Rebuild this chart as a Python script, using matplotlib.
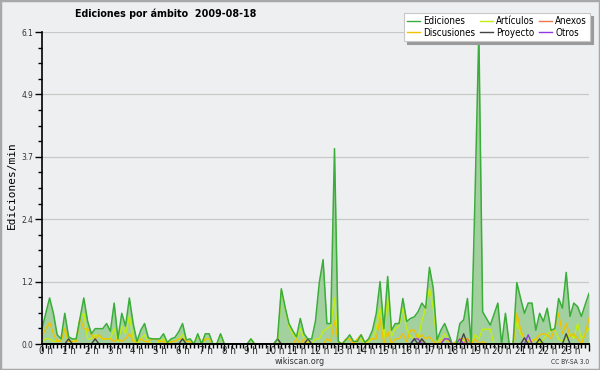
import numpy as np
import matplotlib
matplotlib.use("Agg")
import matplotlib.pyplot as plt
from matplotlib import font_manager
from matplotlib.lines import Line2D
from matplotlib.patches import Rectangle
from matplotlib.ticker import MultipleLocator, FixedLocator
import matplotlib.transforms as mtransforms

# ─── Data: edits per minute, one sample every 10 minutes (00:00 .. 24:00) ─────
TITLE = "Ediciones por ámbito  2009-08-18"
Y_LABEL = "Ediciones/min"
HOUR_LABELS = [f"{h} h" for h in range(24)]
Y_TICKS = [0.0, 1.22, 2.44, 3.66, 4.88, 6.1]
Y_TICK_LABELS = ["0.0", "1.2", "2.4", "3.7", "4.9", "6.1"]
SAMPLES_PER_HOUR = 6

ediciones = [
    0.30, 0.60, 0.90, 0.60, 0.18, 0.10, 0.60, 0.14, 0.10, 0.10, 0.50, 0.90,
    0.45, 0.20, 0.30, 0.30, 0.30, 0.40, 0.25, 0.80, 0.10, 0.60, 0.35, 0.90,
    0.40, 0.05, 0.27, 0.40, 0.12, 0.10, 0.10, 0.10, 0.20, 0.03, 0.10, 0.13,
    0.24, 0.40, 0.08, 0.10, 0.00, 0.20, 0.00, 0.20, 0.20, 0.00, 0.00, 0.20,
    0.00, 0.00, 0.00, 0.00, 0.00, 0.00, 0.00, 0.10, 0.00, 0.00, 0.00, 0.00,
    0.00, 0.00, 0.10, 1.08, 0.72, 0.40, 0.26, 0.14, 0.50, 0.20, 0.10, 0.10,
    0.45, 1.20, 1.65, 0.40, 0.40, 3.82, 0.05, 0.00, 0.08, 0.18, 0.05, 0.05,
    0.18, 0.03, 0.10, 0.27, 0.60, 1.22, 0.30, 1.32, 0.27, 0.40, 0.40, 0.89,
    0.44, 0.50, 0.53, 0.63, 0.80, 0.70, 1.50, 1.09, 0.08, 0.27, 0.40, 0.21,
    0.00, 0.00, 0.40, 0.47, 0.89, 0.00, 2.90, 6.10, 0.63, 0.50, 0.37, 0.58,
    0.80, 0.00, 0.60, 0.00, 0.00, 1.20, 0.89, 0.60, 0.80, 0.80, 0.27, 0.60,
    0.44, 0.70, 0.27, 0.30, 0.89, 0.70, 1.40, 0.54, 0.80, 0.73, 0.54, 0.77,
    0.99,
]
articulos = [
    0.05, 0.10, 0.10, 0.05, 0.05, 0.10, 0.25, 0.05, 0.05, 0.10, 0.50, 0.60,
    0.10, 0.10, 0.18, 0.15, 0.10, 0.10, 0.10, 0.30, 0.05, 0.35, 0.20, 0.55,
    0.10, 0.00, 0.10, 0.18, 0.05, 0.00, 0.00, 0.05, 0.10, 0.00, 0.05, 0.05,
    0.10, 0.18, 0.05, 0.05, 0.00, 0.18, 0.00, 0.10, 0.10, 0.00, 0.00, 0.18,
    0.00, 0.00, 0.00, 0.00, 0.00, 0.00, 0.00, 0.10, 0.00, 0.00, 0.00, 0.00,
    0.00, 0.00, 0.00, 1.05, 0.70, 0.35, 0.20, 0.10, 0.30, 0.10, 0.05, 0.00,
    0.10, 0.10, 0.25, 0.30, 0.35, 0.90, 0.00, 0.00, 0.10, 0.10, 0.00, 0.05,
    0.10, 0.00, 0.05, 0.10, 0.30, 0.70, 0.10, 1.00, 0.15, 0.30, 0.35, 0.70,
    0.30, 0.15, 0.10, 0.10, 0.45, 0.70, 1.09, 0.70, 0.05, 0.10, 0.20, 0.10,
    0.00, 0.00, 0.10, 0.05, 0.10, 0.00, 0.18, 0.10, 0.29, 0.29, 0.29, 0.00,
    0.00, 0.00, 0.00, 0.00, 0.00, 0.44, 0.20, 0.10, 0.05, 0.08, 0.10, 0.00,
    0.10, 0.18, 0.27, 0.27, 0.10, 0.05, 0.10, 0.20, 0.10, 0.40, 0.10, 0.20,
    0.30,
]
discusiones = [
    0.15, 0.30, 0.42, 0.20, 0.05, 0.05, 0.30, 0.05, 0.05, 0.05, 0.50, 0.30,
    0.30, 0.18, 0.10, 0.18, 0.10, 0.10, 0.10, 0.05, 0.10, 0.05, 0.10, 0.20,
    0.05, 0.05, 0.10, 0.05, 0.05, 0.10, 0.10, 0.05, 0.05, 0.00, 0.05, 0.05,
    0.10, 0.10, 0.05, 0.05, 0.00, 0.00, 0.00, 0.10, 0.10, 0.00, 0.00, 0.00,
    0.00, 0.00, 0.00, 0.00, 0.00, 0.00, 0.00, 0.00, 0.00, 0.00, 0.00, 0.00,
    0.00, 0.00, 0.00, 0.00, 0.00, 0.00, 0.00, 0.10, 0.00, 0.10, 0.00, 0.00,
    0.00, 0.00, 0.00, 0.10, 0.05, 0.45, 0.05, 0.00, 0.10, 0.10, 0.00, 0.10,
    0.18, 0.00, 0.10, 0.10, 0.10, 0.50, 0.00, 0.25, 0.00, 0.10, 0.10, 0.20,
    0.05, 0.27, 0.27, 0.10, 0.18, 0.10, 0.14, 0.05, 0.00, 0.05, 0.10, 0.05,
    0.00, 0.05, 0.10, 0.10, 0.10, 0.00, 0.10, 0.00, 0.05, 0.00, 0.00, 0.00,
    0.00, 0.00, 0.00, 0.00, 0.00, 0.60, 0.27, 0.10, 0.05, 0.05, 0.10, 0.18,
    0.20, 0.18, 0.10, 0.30, 0.60, 0.20, 0.40, 0.15, 0.20, 0.10, 0.00, 0.20,
    0.50,
]
proyecto = [
    0.00, 0.00, 0.00, 0.00, 0.00, 0.00, 0.00, 0.10, 0.00, 0.00, 0.00, 0.00,
    0.00, 0.00, 0.10, 0.00, 0.00, 0.00, 0.00, 0.00, 0.00, 0.00, 0.00, 0.00,
    0.00, 0.00, 0.00, 0.00, 0.00, 0.00, 0.00, 0.00, 0.00, 0.00, 0.00, 0.00,
    0.00, 0.10, 0.00, 0.00, 0.00, 0.00, 0.00, 0.00, 0.00, 0.00, 0.00, 0.00,
    0.00, 0.00, 0.00, 0.00, 0.00, 0.00, 0.00, 0.00, 0.00, 0.00, 0.00, 0.00,
    0.00, 0.00, 0.10, 0.00, 0.00, 0.00, 0.00, 0.00, 0.00, 0.00, 0.10, 0.00,
    0.00, 0.00, 0.00, 0.00, 0.00, 0.00, 0.00, 0.00, 0.00, 0.00, 0.00, 0.00,
    0.00, 0.00, 0.00, 0.00, 0.00, 0.00, 0.00, 0.00, 0.00, 0.00, 0.00, 0.00,
    0.00, 0.00, 0.10, 0.00, 0.10, 0.00, 0.00, 0.00, 0.00, 0.00, 0.00, 0.00,
    0.00, 0.00, 0.00, 0.20, 0.00, 0.00, 0.00, 0.00, 0.00, 0.00, 0.00, 0.00,
    0.00, 0.00, 0.00, 0.00, 0.00, 0.00, 0.00, 0.12, 0.00, 0.00, 0.00, 0.10,
    0.00, 0.00, 0.00, 0.00, 0.00, 0.00, 0.20, 0.00, 0.00, 0.00, 0.00, 0.00,
    0.00,
]
otros = [
    0.00, 0.00, 0.00, 0.00, 0.00, 0.00, 0.00, 0.00, 0.00, 0.00, 0.00, 0.00,
    0.00, 0.00, 0.00, 0.00, 0.00, 0.00, 0.00, 0.00, 0.00, 0.00, 0.00, 0.00,
    0.00, 0.00, 0.00, 0.00, 0.00, 0.00, 0.00, 0.00, 0.00, 0.00, 0.00, 0.00,
    0.00, 0.00, 0.00, 0.00, 0.00, 0.00, 0.00, 0.00, 0.00, 0.00, 0.00, 0.00,
    0.00, 0.00, 0.00, 0.00, 0.00, 0.00, 0.00, 0.00, 0.00, 0.00, 0.00, 0.00,
    0.00, 0.00, 0.00, 0.00, 0.00, 0.00, 0.00, 0.00, 0.00, 0.00, 0.00, 0.00,
    0.00, 0.00, 0.00, 0.00, 0.00, 0.00, 0.00, 0.00, 0.00, 0.00, 0.00, 0.00,
    0.00, 0.00, 0.00, 0.00, 0.00, 0.00, 0.00, 0.00, 0.00, 0.00, 0.00, 0.00,
    0.00, 0.00, 0.10, 0.10, 0.00, 0.00, 0.00, 0.00, 0.00, 0.00, 0.10, 0.10,
    0.00, 0.00, 0.10, 0.00, 0.00, 0.00, 0.00, 0.00, 0.00, 0.00, 0.00, 0.00,
    0.00, 0.00, 0.00, 0.00, 0.00, 0.00, 0.00, 0.00, 0.18, 0.00, 0.00, 0.00,
    0.00, 0.00, 0.00, 0.00, 0.00, 0.00, 0.00, 0.00, 0.00, 0.00, 0.00, 0.00,
    0.00,
]
anexos = [
    0.00, 0.00, 0.00, 0.00, 0.00, 0.00, 0.00, 0.00, 0.00, 0.00, 0.00, 0.00,
    0.00, 0.00, 0.00, 0.00, 0.00, 0.00, 0.00, 0.00, 0.00, 0.00, 0.00, 0.00,
    0.00, 0.00, 0.00, 0.00, 0.00, 0.00, 0.00, 0.00, 0.00, 0.00, 0.00, 0.00,
    0.00, 0.00, 0.00, 0.00, 0.00, 0.00, 0.00, 0.00, 0.00, 0.00, 0.00, 0.00,
    0.00, 0.00, 0.00, 0.00, 0.00, 0.00, 0.00, 0.00, 0.00, 0.00, 0.00, 0.00,
    0.00, 0.00, 0.00, 0.00, 0.00, 0.00, 0.00, 0.00, 0.00, 0.00, 0.00, 0.00,
    0.00, 0.00, 0.00, 0.00, 0.00, 0.00, 0.00, 0.00, 0.00, 0.00, 0.00, 0.00,
    0.00, 0.00, 0.00, 0.00, 0.00, 0.00, 0.00, 0.00, 0.00, 0.00, 0.00, 0.00,
    0.00, 0.00, 0.00, 0.00, 0.08, 0.00, 0.00, 0.00, 0.00, 0.00, 0.00, 0.00,
    0.00, 0.00, 0.00, 0.00, 0.10, 0.00, 0.00, 0.00, 0.00, 0.00, 0.00, 0.00,
    0.00, 0.00, 0.00, 0.00, 0.00, 0.00, 0.00, 0.00, 0.00, 0.00, 0.00, 0.00,
    0.00, 0.00, 0.00, 0.00, 0.00, 0.00, 0.00, 0.00, 0.00, 0.00, 0.00, 0.00,
    0.00,
]

# ─── Style ───────────────────────────────────────────────────────────────────
BG = "#eeeff0"
C_EDIC, C_FILL = "#3aad3a", "#a2d09e"
C_ART, C_DISC = "#c4ee10", "#f2c200"
C_PROY, C_OTROS, C_ANEX = "#444444", "#9038e8", "#f07848"

# narrow DejaVu if the system has it, else plain DejaVu Sans
has_cond = any(f.name == "DejaVu Sans" and "condensed" in str(f.stretch)
               for f in font_manager.fontManager.ttflist)
STRETCH = "condensed" if has_cond else "normal"
K = 1.0 if has_cond else 0.88   # shrink sizes if only the wide face exists


def fp(size, weight="normal"):
    return font_manager.FontProperties(family="DejaVu Sans", size=size * K,
                                       weight=weight, stretch=STRETCH)


W, H = 600, 370
fig = plt.figure(figsize=(W / 100, H / 100), dpi=100, facecolor=BG)
fig.patches.append(Rectangle((0, 0), 1, 1, transform=fig.transFigure, fill=False,
                             edgecolor="#a8a8a8", linewidth=2.5))

ax = fig.add_axes([42 / W, 26 / H, (589 - 42) / W, (344 - 32) / H])
ax.set_facecolor(BG)

x = np.arange(len(ediciones)) / SAMPLES_PER_HOUR
ax.fill_between(x, 0, ediciones, color=C_FILL, linewidth=0, zorder=2)
ax.plot(x, articulos, color=C_ART, lw=1.0, zorder=3)
ax.plot(x, discusiones, color=C_DISC, lw=1.0, zorder=3)
ax.plot(x, anexos, color=C_ANEX, lw=1.0, zorder=3)
ax.plot(x, otros, color=C_OTROS, lw=1.0, zorder=3)
ax.plot(x, proyecto, color=C_PROY, lw=1.0, zorder=3)
ax.plot(x, ediciones, color=C_EDIC, lw=1.1, zorder=4)

ax.set_xlim(0, 24)
ax.set_ylim(0, 6.1)

# axes & ticks
for side in ("top", "right"):
    ax.spines[side].set_visible(False)
ax.spines["left"].set_linewidth(1.2)
ax.spines["bottom"].set_linewidth(1.4)
ax.spines["left"].set_zorder(5)
ax.spines["bottom"].set_zorder(5)

ax.yaxis.set_major_locator(FixedLocator(Y_TICKS))
ax.yaxis.set_minor_locator(MultipleLocator(6.1 / 20))
ax.set_yticklabels(Y_TICK_LABELS, fontproperties=fp(6.0), color="#333333")
ax.grid(axis="y", color="#c8c8c8", linewidth=0.9, zorder=1)

ax.xaxis.set_major_locator(MultipleLocator(1))
ax.xaxis.set_minor_locator(MultipleLocator(1 / SAMPLES_PER_HOUR))
ax.set_xticklabels([])
ax.tick_params(axis="both", which="major", length=5, width=1.0, color="black", pad=1.5)
ax.tick_params(axis="both", which="minor", length=3, width=1.0, color="black")

# hour labels: number centred on its tick, " h" trailing
for h, lab in enumerate(HOUR_LABELS):
    nd = len(lab.split()[0])
    off = mtransforms.ScaledTranslation(-2.7 * nd / 100, -7.5 / 100, fig.dpi_scale_trans)
    ax.text(h, 0, lab, transform=ax.get_xaxis_transform() + off,
            ha="left", va="center", fontproperties=fp(7.0), color="#222222",
            clip_on=False)

fig.text(12 / W, 1 - 185 / H, Y_LABEL, rotation=90, ha="center", va="center",
         fontproperties=font_manager.FontProperties(family="DejaVu Sans Mono", size=8))

fig.text(75 / W, 1 - 14 / H, TITLE, fontproperties=fp(7.7, "bold"), ha="left", va="center")
fig.text(300 / W, 1 - 361 / H, "wikiscan.org", fontproperties=fp(6.4), ha="center",
         va="center", color="#333333")
fig.text(589 / W, 1 - 362 / H, "CC BY-SA 3.0", fontproperties=fp(4.8), ha="right",
         va="center", color="#333333")

handles = [Line2D([], [], color=c, lw=1.0) for c in
           (C_EDIC, C_DISC, C_ART, C_PROY, C_ANEX, C_OTROS)]
labels = ["Ediciones", "Discusiones", "Artículos", "Proyecto", "Anexos", "Otros"]
leg = fig.legend(handles, labels, loc="upper right", bbox_to_anchor=(590 / W, 1 - 13 / H),
                 ncol=3, prop=fp(7.0), frameon=True, fancybox=False,
                 shadow={"color": "#9a9a9a", "alpha": 1.0},
                 borderpad=0.3, labelspacing=0.2, handlelength=1.3,
                 handletextpad=0.35, columnspacing=0.5, borderaxespad=0)
leg.get_frame().set_edgecolor("#c8c8c8")
leg.get_frame().set_linewidth(0.8)
leg.set_zorder(10)

fig.savefig("out.png", dpi=100, facecolor=BG)
